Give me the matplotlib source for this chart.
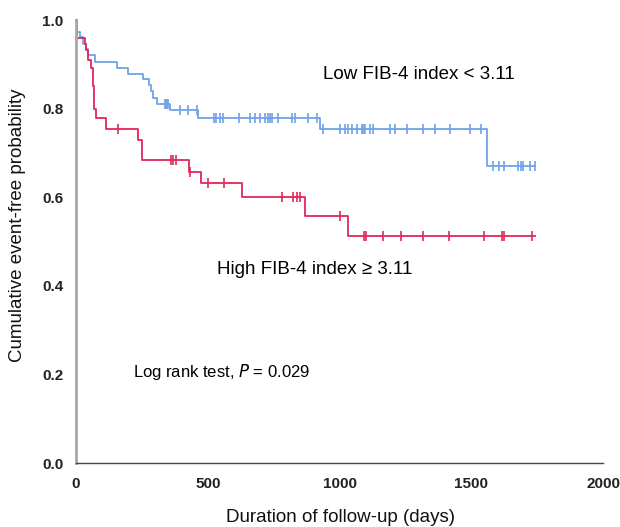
import numpy as np
import matplotlib
matplotlib.use("Agg")
import matplotlib.pyplot as plt

plt.rcParams["font.family"] = ["Liberation Sans", "DejaVu Sans"]

# Kaplan-Meier step values (days, survival)
low_times = [0, 3, 15, 25, 38, 47, 72, 154, 199, 256, 278, 285, 291, 306, 357, 464, 926, 1559]
low_surv = [1.0, 0.974, 0.962, 0.947, 0.934, 0.921, 0.906, 0.892, 0.879, 0.866, 0.853,
            0.840, 0.824, 0.810, 0.797, 0.778, 0.753, 0.670]
low_end = 1742
low_censor = [336, 340, 344, 348, 395, 426, 458,
              524, 530, 546, 557, 620, 660, 679, 698, 717, 730, 736, 743, 768, 819, 831, 882, 913,
              939, 1002, 1021, 1033, 1046, 1065, 1084, 1090, 1097, 1116, 1128, 1192, 1211, 1255,
              1318, 1364, 1421, 1497, 1536,
              1581, 1607, 1624, 1679, 1688, 1698, 1723, 1742]

high_times = [0, 5, 34, 38, 47, 56, 63, 68, 76, 114, 237, 249, 429, 474, 629, 869, 1032]
high_surv = [1.0, 0.959, 0.947, 0.932, 0.910, 0.891, 0.850, 0.800, 0.778, 0.755, 0.729,
             0.684, 0.658, 0.631, 0.601, 0.558, 0.512]
high_end = 1742
high_censor = [161, 359, 369, 380, 432, 502, 562, 781, 825, 837, 850, 1002,
               1093, 1101, 1166, 1232, 1318, 1417, 1548, 1616, 1624, 1729]

blue = "#6fa2e8"
red = "#e2285a"


def km_curve(ax, times, surv, end, censor, color):
    t = np.array(times + [end])
    s = np.array(surv + [surv[-1]])
    ax.step(t, s, where="post", color=color, lw=1.3, clip_on=False)
    idx = np.searchsorted(times, censor, side="right") - 1
    cs = np.array(surv)[idx]
    ax.plot(censor, cs, ls="none", marker="|", color=color, ms=7, mew=1.2, clip_on=False)


fig = plt.figure(figsize=(6.2, 5.27), dpi=100)
ax = fig.add_axes([0.1226, 0.1214, 0.85, 0.8406])

km_curve(ax, low_times, low_surv, low_end, low_censor, blue)
km_curve(ax, high_times, high_surv, high_end, high_censor, red)

ax.set_xlim(0, 2000)
ax.set_ylim(0, 1.0)
ax.set_xticks([0, 500, 1000, 1500, 2000])
ax.set_yticks([0.0, 0.2, 0.4, 0.6, 0.8, 1.0])
ax.yaxis.set_major_formatter(matplotlib.ticker.FormatStrFormatter("%.1f"))
ax.tick_params(length=0, labelsize=11)
ax.tick_params(axis="x", pad=10)
ax.tick_params(axis="y", pad=9)
for lab in ax.get_xticklabels() + ax.get_yticklabels():
    lab.set_fontweight("bold")
    lab.set_color("#222222")

for side in ["top", "right"]:
    ax.spines[side].set_visible(False)
ax.spines["left"].set_color("#a8a8a8")
ax.spines["left"].set_linewidth(2)
ax.spines["bottom"].set_color("#444444")
ax.spines["bottom"].set_linewidth(1)

ax.set_xlabel("Duration of follow-up (days)", fontsize=13.5, color="#111111")
ax.set_ylabel("Cumulative event-free probability", fontsize=13.5, color="#111111")
ax.xaxis.set_label_coords(0.502, -0.103)
ax.yaxis.set_label_coords(-0.095, 0.536)

ax.text(1302, 0.876, "Low FIB-4 index < 3.11", fontsize=13.5, ha="center", va="center")
ax.text(905, 0.436, "High FIB-4 index \u2265 3.11", fontsize=13.5, ha="center", va="center")
ax.text(216, 0.205, "Log rank test, $\\it{P}$ = 0.029", fontsize=12, ha="left", va="center")

fig.savefig("out.png", dpi=100)
